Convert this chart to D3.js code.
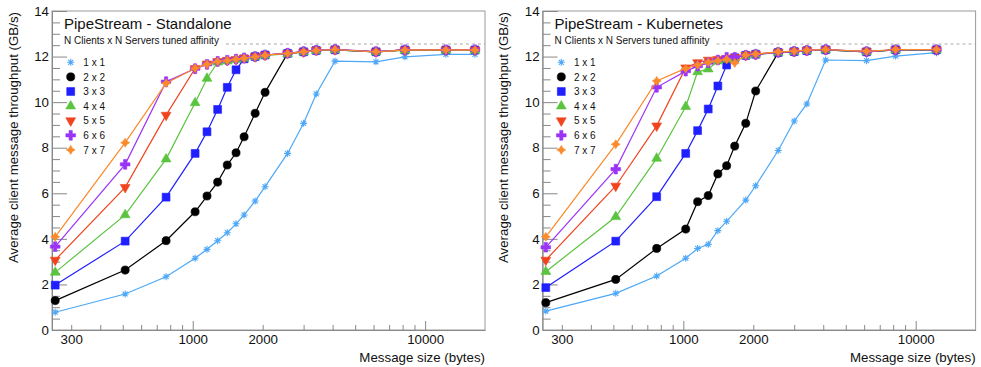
<!DOCTYPE html>
<html><head><meta charset="utf-8">
<script src="https://cdn.jsdelivr.net/npm/d3@7"></script>
<style>body{margin:0;background:#fff}text{font-family:"Liberation Sans",Arial,Helvetica,sans-serif;fill:#111}</style>
</head><body><svg id="c" width="981" height="367"></svg>
<script>
// ---------------- data ----------------
const seriesNames = ["1 x 1","2 x 2","3 x 3","4 x 4","5 x 5","6 x 6","7 x 7"];
const panelTitles = ["PipeStream - Standalone","PipeStream - Kubernetes"];
const subtitle = "N Clients x N Servers tuned affinity";
const xAxisTitle = "Message size (bytes)";
const yAxisTitle = "Average client message throughput (GB/s)";
const yTickValues = [0,2,4,6,8,10,12,14];
const xLabelTicks = [300,1000,2000,10000];
const xMajorTicks = [1000,10000];
const xMinorTicks = [300,400,500,600,700,800,900,2000,3000,4000,5000,6000,7000,8000,9000];
const referenceLevel = 12.55;

const sizesStandalone = [256,512,768,1024,1152,1280,1408,1536,1664,1856,2048,2560,3000,3400,4096,6144,8192,12288,16384];
const sa1 = [0.78,1.58,2.34,3.15,3.54,3.92,4.27,4.66,5.05,5.66,6.29,7.75,9.07,10.36,11.80,11.77,11.99,12.10,12.10];
const sa2 = [1.29,2.63,3.92,5.19,5.88,6.49,7.24,7.78,8.48,9.51,10.43,12.14,12.21,12.26,12.29,12.21,12.29,12.29,12.29];
const sa3 = [1.97,3.90,5.83,7.75,8.70,9.68,10.65,11.42,11.90,12.00,12.07,12.14,12.21,12.27,12.30,12.21,12.29,12.29,12.29];
const sa4 = [2.53,5.05,7.50,9.97,11.04,11.75,11.80,11.86,11.92,11.99,12.05,12.12,12.20,12.26,12.29,12.20,12.27,12.27,12.27];
const sa5 = [3.07,6.26,9.43,11.48,11.68,11.79,11.84,11.88,11.94,12.00,12.07,12.14,12.21,12.28,12.31,12.21,12.29,12.29,12.29];
const sa6 = [3.66,7.27,10.90,11.47,11.66,11.79,11.84,11.89,11.94,12.00,12.07,12.15,12.22,12.28,12.32,12.22,12.30,12.30,12.30];
const sa7 = [4.09,8.22,10.83,11.49,11.66,11.78,11.83,11.88,11.93,11.99,12.06,12.14,12.21,12.27,12.31,12.21,12.29,12.29,12.29];

const sizesKubernetes = [256,512,768,1024,1152,1280,1408,1536,1664,1856,2048,2560,3000,3400,4096,6144,8192,12288];
const k8s1 = [0.83,1.61,2.37,3.15,3.58,3.76,4.36,4.77,null,5.70,6.33,7.88,9.17,9.92,11.85,11.82,12.02,12.17];
const k8s2 = [1.20,2.22,3.58,4.43,5.63,5.90,6.85,7.21,8.07,9.07,10.49,12.17,12.21,12.26,12.29,12.21,12.29,12.29];
const k8s3 = [1.86,3.90,5.85,7.75,8.75,9.70,10.71,11.63,11.95,12.05,12.10,12.18,12.22,12.26,12.30,12.21,12.30,12.30];
const k8s4 = [2.56,4.97,7.53,9.80,11.33,11.45,11.80,11.88,11.94,12.04,12.09,12.18,12.22,12.26,12.29,12.21,12.29,12.29];
const k8s5 = [3.07,6.32,8.96,11.51,11.74,11.85,11.88,11.92,11.97,12.06,12.10,12.19,12.23,12.27,12.31,12.22,12.30,12.30];
const k8s6 = [3.63,7.06,10.65,11.36,11.58,11.73,11.85,11.97,11.97,12.06,12.10,12.19,12.23,12.27,12.31,12.22,12.30,12.30];
const k8s7 = [4.09,8.15,10.93,11.48,11.63,11.75,11.82,11.88,11.72,12.07,12.11,12.21,12.24,12.28,12.31,12.23,12.31,12.31];

// ---------------- styles ----------------
const colors = ["#4ea8f7","#000000","#1f1fff","#5ac43f","#f0441f","#9b33f7","#fa8a2a"];
const asterisk = {draw(ctx,size){const r=Math.sqrt(size)/2;const d=r*0.7071;
  ctx.moveTo(-r,0);ctx.lineTo(r,0);ctx.moveTo(0,-r);ctx.lineTo(0,r);
  ctx.moveTo(-d,-d);ctx.lineTo(d,d);ctx.moveTo(-d,d);ctx.lineTo(d,-d);}};
const star4 = {draw(ctx,size){const r=Math.sqrt(size)/2, q=r*0.38;
  ctx.moveTo(0,-r);ctx.lineTo(q,-q);ctx.lineTo(r,0);ctx.lineTo(q,q);ctx.lineTo(0,r);
  ctx.lineTo(-q,q);ctx.lineTo(-r,0);ctx.lineTo(-q,-q);ctx.closePath();}};
const markers = [
  {type:asterisk,size:49,fill:false,rot:0},
  {type:d3.symbolCircle,size:52,fill:true,rot:0},
  {type:d3.symbolSquare,size:62,fill:true,rot:0},
  {type:d3.symbolTriangle,size:42,fill:true,rot:0},
  {type:d3.symbolTriangle,size:42,fill:true,rot:180},
  {type:d3.symbolCross,size:52,fill:true,rot:0},
  {type:star4,size:81,fill:true,rot:0}
];

const svg = d3.select("#c");
const PW = 490.6;
const L0 = 52, R0 = 485, T0 = 11, B0 = 330;

function drawMarker(sel, i){
  const m = markers[i];
  sel.attr("d", d3.symbol().type(m.type).size(m.size)())
     .attr("fill", m.fill ? colors[i] : "none")
     .attr("stroke", colors[i])
     .attr("stroke-width", m.fill ? 0.6 : 1.1);
}

function drawPanel(p, title, sizes, seriesList){
  const ox = p*PW;
  const g = svg.append("g");
  const x = d3.scaleLog().domain([248,18100]).range([L0+ox, R0+ox]);
  const y = d3.scaleLinear().domain([0,14]).range([B0,T0]);

  // frame
  g.append("rect").attr("x",L0+ox).attr("y",T0).attr("width",R0-L0).attr("height",B0-T0)
    .attr("fill","none").attr("stroke","#9a9a9a").attr("stroke-width",1);

  // y axis
  const yMinor = d3.range(0,14.001,0.5).filter(v=>v%2!==0);
  g.append("g").attr("transform",`translate(${L0+ox},0)`)
    .call(d3.axisLeft(y).tickValues(yMinor).tickSize(-8).tickFormat(""))
    .call(a=>a.select(".domain").remove()).selectAll("line").attr("stroke","#888");
  const ya = g.append("g").attr("transform",`translate(${L0+ox},0)`)
    .call(d3.axisLeft(y).tickValues(yTickValues).tickSize(-15).tickPadding(3).tickFormat(d3.format("d")));
  ya.select(".domain").attr("stroke","#888");
  ya.selectAll("line").attr("stroke","#888");
  ya.selectAll("text").attr("font-size","13.3px").attr("font-family","Liberation Sans, Arial, sans-serif").attr("fill","#111");

  // x axis
  g.append("g").attr("transform",`translate(0,${B0})`)
    .call(d3.axisBottom(x).tickValues(xMinor=xMinorTicks).tickSize(-5).tickFormat(""))
    .call(a=>a.select(".domain").remove()).selectAll("line").attr("stroke","#888");
  g.append("g").attr("transform",`translate(0,${B0})`)
    .call(d3.axisBottom(x).tickValues(xMajorTicks).tickSize(-9).tickFormat(""))
    .call(a=>a.select(".domain").remove()).selectAll("line").attr("stroke","#888");
  const xa = g.append("g").attr("transform",`translate(0,${B0})`)
    .call(d3.axisBottom(x).tickValues(xLabelTicks).tickSize(0).tickPadding(5).tickFormat(d3.format("d")));
  xa.select(".domain").attr("stroke","#888");
  xa.selectAll("text").attr("font-size","13.3px").attr("font-family","Liberation Sans, Arial, sans-serif").attr("fill","#111");

  // axis titles
  g.append("text").attr("x",R0+ox).attr("y",362).attr("text-anchor","end")
    .attr("font-size","13.3px").text(xAxisTitle);
  g.append("text").attr("transform",`translate(${17.5+ox},${12}) rotate(-90)`)
    .attr("text-anchor","end").attr("font-size","13.3px").text(yAxisTitle);

  // title & subtitle
  g.append("text").attr("x",64+ox).attr("y",28.5).attr("font-size","15px").text(title);
  const st = g.append("text").attr("x",64+ox).attr("y",43.5).attr("font-size","10px").text(subtitle);
  const stEnd = 64+ox + st.node().getComputedTextLength();

  // dashed reference line
  g.append("line").attr("x1",stEnd+7).attr("x2",R0+ox)
    .attr("y1",y(referenceLevel)).attr("y2",y(referenceLevel))
    .attr("stroke","#aaa").attr("stroke-width",1).attr("stroke-dasharray","3,3");

  // series
  const line = d3.line().x(d=>x(d[0])).y(d=>y(d[1]));
  seriesList.forEach((vals,i)=>{
    const pts = sizes.map((s,j)=>[s,vals[j]]).filter(d=>d[1]!==null);
    const sg = g.append("g");
    sg.append("path").datum(pts).attr("d",line).attr("fill","none")
      .attr("stroke",colors[i]).attr("stroke-width",1.2);
    sg.selectAll("path.m").data(pts).join("path").attr("class","m")
      .attr("transform",d=>`translate(${x(d[0])},${y(d[1])}) rotate(${markers[i].rot})`)
      .call(drawMarker,i);
  });

  // legend
  seriesNames.forEach((n,i)=>{
    const cy = 62.3 + i*14.6;
    g.append("path").attr("transform",`translate(${70.7+ox},${cy}) rotate(${markers[i].rot})`).call(drawMarker,i);
    g.append("text").attr("x",83.3+ox).attr("y",cy+3.6).attr("font-size","10px").text(n);
  });
}
let xMinor;
drawPanel(0, panelTitles[0], sizesStandalone, [sa1,sa2,sa3,sa4,sa5,sa6,sa7]);
drawPanel(1, panelTitles[1], sizesKubernetes, [k8s1,k8s2,k8s3,k8s4,k8s5,k8s6,k8s7]);
</script></body></html>
